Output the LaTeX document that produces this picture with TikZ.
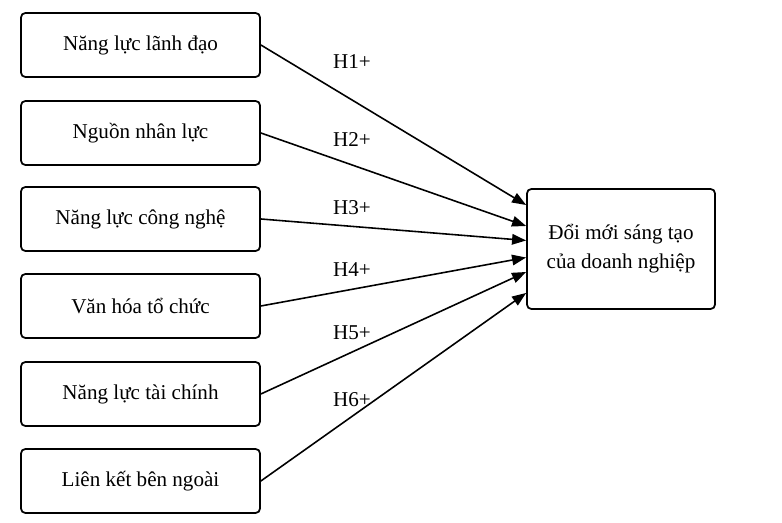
\documentclass[tikz,border=0pt]{standalone}
\usepackage{fontspec}
\setmainfont{Liberation Serif}
\usetikzlibrary{arrows.meta,calc}

\begin{document}
\begin{tikzpicture}[
    factor/.style={draw, line width=1pt, rounded corners=2.5pt, minimum width=4.78cm, minimum height=1.28cm, font=\fontsize{12}{14}\selectfont},
    outcome/.style={draw, line width=1pt, rounded corners=2.5pt, minimum width=3.76cm, minimum height=2.4cm, align=center, font=\fontsize{12}{16.5}\selectfont},
    hyp/.style={font=\fontsize{12}{14}\selectfont},
    link/.style={-{Triangle[length=8pt,width=6pt]}, line width=0.9pt}
]
    \useasboundingbox (0,0) rectangle (15.64,10.46);
    % left: the six factors
    \node[factor] (lead) at (2.81,9.56) {Năng lực lãnh đạo};
    \node[factor] (hr)   at (2.81,7.80) {Nguồn nhân lực};
    \node[factor] (tech) at (2.81,6.08) {Năng lực công nghệ};
    \node[factor] (cult) at (2.81,4.34) {Văn hóa tổ chức};
    \node[factor] (fin)  at (2.81,2.58) {Năng lực tài chính};
    \node[factor] (ext)  at (2.81,0.84) {Liên kết bên ngoài};
    % right: the outcome
    \node[outcome, text depth=0.12cm] (inno) at (12.42,5.48) {Đổi mới sáng tạo\\của doanh nghiệp};
    % arrow ends on the outcome box
    \coordinate (e1) at ($(inno.west)+(0,0.88)$);
    \coordinate (e2) at ($(inno.west)+(0,0.46)$);
    \coordinate (e3) at ($(inno.west)+(0,0.17)$);
    \coordinate (e4) at ($(inno.west)+(0,-0.17)$);
    \coordinate (e5) at ($(inno.west)+(0,-0.46)$);
    \coordinate (e6) at ($(inno.west)+(0,-0.88)$);
    \draw[link] (lead.east) -- (e1);
    \draw[link] (hr.east) -- (e2);
    \draw[link] (tech.east) -- (e3);
    \draw[link] (cult.east) -- (e4);
    \draw[link] (fin.east) -- (e5);
    \draw[link] (ext.east) -- (e6);
    % hypotheses
    \node[hyp] (h1) at (7.04,9.22) {H1+};
    \node[hyp] (h2) at (7.04,7.66) {H2+};
    \node[hyp] (h3) at (7.04,6.30) {H3+};
    \node[hyp] (h4) at (7.04,5.06) {H4+};
    \node[hyp] (h5) at (7.04,3.80) {H5+};
    \node[hyp] (h6) at (7.04,2.46) {H6+};
\end{tikzpicture}
\end{document}
